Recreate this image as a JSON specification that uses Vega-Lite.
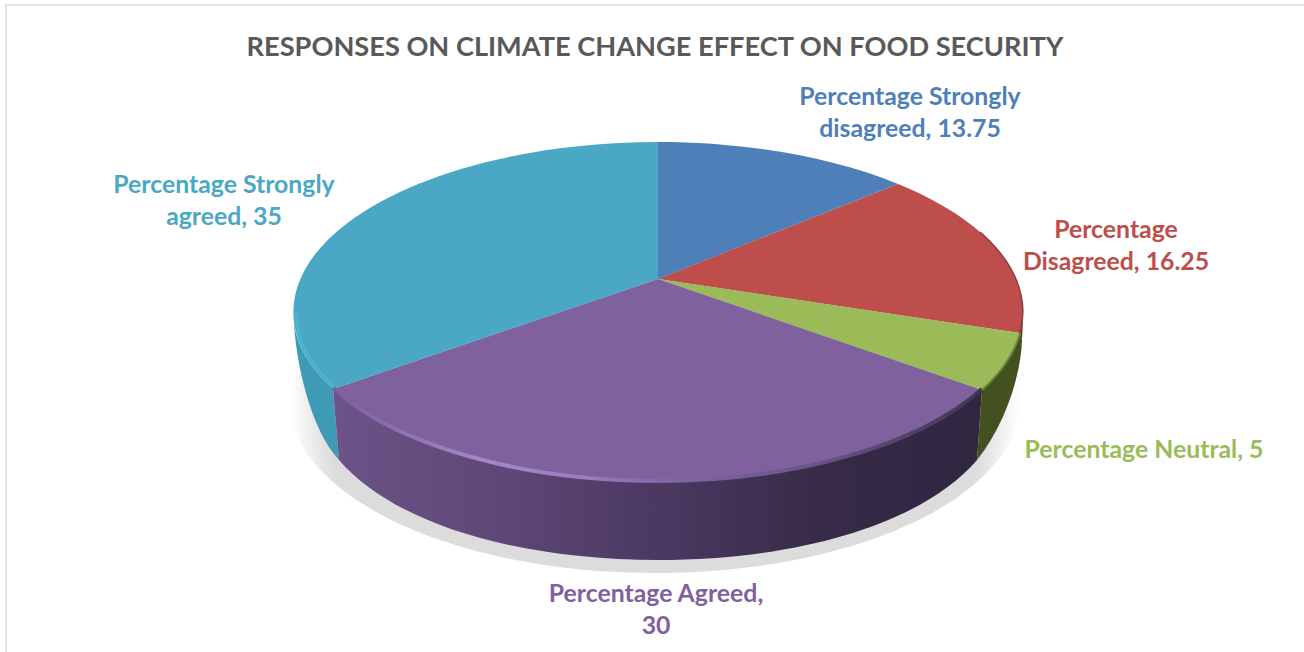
{
  "$schema": "https://vega.github.io/schema/vega-lite/v6.json",
  "autosize": "none",
  "width": 1308,
  "height": 670,
  "padding": {"left": 6, "top": 5, "right": -10, "bottom": -23},
  "background": "white",
  "config": {"view": {"stroke": "#dcdcdc", "strokeWidth": 1.6}},
  "title": {
    "text": "RESPONSES ON CLIMATE CHANGE EFFECT ON FOOD SECURITY",
    "font": "Lato", "fontSize": 27.2, "fontWeight": "bold", "color": "#595959",
    "anchor": "middle", "frame": "group", "baseline": "alphabetic", "offset": -78, "dx": -5
  },
  "data": {
    "values": [
      {"response": "Percentage Strongly disagreed", "value": 13.75, "label": "Percentage Strongly\ndisagreed, 13.75"},
      {"response": "Percentage Disagreed", "value": 16.25, "label": "Percentage\nDisagreed, 16.25"},
      {"response": "Percentage Neutral", "value": 5, "label": "Percentage Neutral, 5"},
      {"response": "Percentage Agreed", "value": 30, "label": "Percentage Agreed,\n30"},
      {"response": "Percentage Strongly agreed", "value": 35, "label": "Percentage Strongly\nagreed, 35"}
    ]
  },
  "layer": [
    {
      "description": "soft ground shadow under the disc",
      "data": {"values": [{"part": "shadow"}]},
      "mark": {
        "type": "point", "filled": true, "opacity": 1, "size": 4,
        "shape": "M-370,61 A365,172 0 1 1 360,61 A365,172 0 1 1 -370,61 Z",
        "fill": {
          "gradient": "radial", "x1": 0.5, "y1": 0.5, "r1": 0, "x2": 0.5, "y2": 0.5, "r2": 0.5,
          "stops": [
            {"offset": 0, "color": "#dcdcdc"},
            {"offset": 0.9, "color": "#dcdcdc"},
            {"offset": 0.95, "color": "#eeeeee"},
            {"offset": 1, "color": "#ffffff"}
          ]
        }
      }
    },
    {
      "description": "side wall: strongly agreed",
      "transform": [{"filter": "datum.response === 'Percentage Strongly agreed'"}],
      "mark": {
        "type": "point", "filled": true, "opacity": 1, "size": 4,
        "shape": "M-367,-28 A365,170 0 0 0 -327,49 L-321,120 C-348,90 -364,30 -367,-28 Z",
        "fill": "#3f9ab6"
      }
    },
    {
      "description": "side wall: agreed, darkening to the right",
      "transform": [{"filter": "datum.response === 'Percentage Agreed'"}],
      "mark": {
        "type": "point", "filled": true, "opacity": 1, "size": 4,
        "shape": "M-327,49 A365,170 0 0 0 322,50 L317,120 C261,185 136,220 -2,220 C-140,220 -265,185 -321,120 Z",
        "fill": {
          "gradient": "linear", "x1": 0, "y1": 0, "x2": 1, "y2": 0,
          "stops": [
            {"offset": 0, "color": "#6c5388"},
            {"offset": 0.25, "color": "#5f4877"},
            {"offset": 0.5, "color": "#4b3962"},
            {"offset": 0.75, "color": "#372b47"},
            {"offset": 1, "color": "#302640"}
          ]
        }
      }
    },
    {
      "description": "side wall: neutral",
      "transform": [{"filter": "datum.response === 'Percentage Neutral'"}],
      "mark": {
        "type": "point", "filled": true, "opacity": 1, "size": 4,
        "shape": "M322,50 A365,170 0 0 0 360,-7 L362,0 C361,35 345,85 317,120 Z",
        "fill": "#435020"
      }
    },
    {
      "description": "side wall: disagreed, only a sliver shows",
      "transform": [{"filter": "datum.response === 'Percentage Disagreed'"}],
      "mark": {
        "type": "point", "filled": true, "opacity": 1, "size": 4,
        "shape": "M360,-7 A365,170 0 0 0 363,-28 L363,-20 L362,0 Z",
        "fill": "#6b2f2d"
      }
    },
    {
      "description": "top face of the pie, one slice per response",
      "mark": {"type": "point", "filled": true, "opacity": 1, "size": 4},
      "encoding": {
        "shape": {
          "field": "response", "type": "nominal", "legend": null,
          "scale": {
            "domain": [
              "Percentage Strongly disagreed", "Percentage Disagreed", "Percentage Neutral",
              "Percentage Agreed", "Percentage Strongly agreed"
            ],
            "range": [
              "M-2,-61 L-2,-198 A365,170 0 0 1 238,-156 Z",
              "M-2,-61 L238,-156 A365,170 0 0 1 360,-7 Z",
              "M-2,-61 L360,-7 A365,170 0 0 1 322,50 Z",
              "M-2,-61 L322,50 A365,170 0 0 1 -327,49 Z",
              "M-2,-61 L-327,49 A365,170 0 0 1 -2,-198 Z"
            ]
          }
        },
        "color": {
          "field": "response", "type": "nominal", "legend": null,
          "scale": {
            "domain": [
              "Percentage Strongly disagreed", "Percentage Disagreed", "Percentage Neutral",
              "Percentage Agreed", "Percentage Strongly agreed"
            ],
            "range": ["#4e7fb9", "#bd4e4b", "#9bbb59", "#7f619e", "#4aa8c4"]
          }
        }
      }
    },
    {
      "description": "bevel on the strongly agreed rim",
      "transform": [{"filter": "datum.response === 'Percentage Strongly agreed'"}],
      "mark": {
        "type": "point", "filled": false, "opacity": 1, "size": 4, "strokeWidth": 3, "fill": null,
        "shape": "M-364,-28 A362,167 0 0 0 -326,46.5",
        "stroke": "#46b6d6"
      }
    },
    {
      "description": "bevel highlight on the left of the agreed rim",
      "transform": [{"filter": "datum.response === 'Percentage Agreed'"}],
      "mark": {
        "type": "point", "filled": false, "opacity": 1, "size": 4, "strokeWidth": 4, "fill": null,
        "shape": "M-327,48 A365,170 0 0 0 -2,141",
        "stroke": {
          "gradient": "linear", "x1": 0, "y1": 0, "x2": 1, "y2": 0,
          "stops": [
            {"offset": 0, "color": "#7a5f9a"},
            {"offset": 0.45, "color": "#a488ca"},
            {"offset": 0.8, "color": "#9a7dc0"},
            {"offset": 1, "color": "#8468a6"}
          ]
        }
      }
    },
    {
      "description": "bevel shade on the right of the agreed rim",
      "transform": [{"filter": "datum.response === 'Percentage Agreed'"}],
      "mark": {
        "type": "point", "filled": false, "opacity": 1, "size": 4, "strokeWidth": 4, "fill": null,
        "shape": "M-2,141 A365,170 0 0 0 322,49",
        "stroke": {
          "gradient": "linear", "x1": 0, "y1": 0, "x2": 1, "y2": 0,
          "stops": [
            {"offset": 0, "color": "#8468a6"},
            {"offset": 0.5, "color": "#6a5288"},
            {"offset": 1, "color": "#42344f"}
          ]
        }
      }
    },
    {
      "description": "dark edge along the disagreed rim",
      "transform": [{"filter": "datum.response === 'Percentage Disagreed'"}],
      "mark": {
        "type": "point", "filled": false, "opacity": 1, "size": 4, "strokeWidth": 1.5, "fill": null,
        "shape": "M320,-108 A365,170 0 0 1 360,-7",
        "stroke": "#8a3d3a"
      }
    },
    {
      "description": "dark edge along the neutral rim",
      "transform": [{"filter": "datum.response === 'Percentage Neutral'"}],
      "mark": {
        "type": "point", "filled": false, "opacity": 1, "size": 4, "strokeWidth": 2, "fill": null,
        "shape": "M360,-7 A365,170 0 0 1 322,50",
        "stroke": "#6d8539"
      }
    },
    {
      "description": "data labels, placed per slice through piecewise position scales",
      "mark": {
        "type": "text", "font": "Lato", "fontSize": 24.8, "fontWeight": "bold",
        "align": "center", "baseline": "alphabetic", "lineBreak": "\n", "lineHeight": 32
      },
      "encoding": {
        "text": {"field": "label", "type": "nominal"},
        "x": {
          "field": "value", "type": "quantitative", "axis": null,
          "scale": {"domain": [5, 13.75, 16.25, 30, 35], "range": [1138, 904, 1110, 650, 218]}
        },
        "y": {
          "field": "value", "type": "quantitative", "axis": null,
          "scale": {"domain": [5, 13.75, 16.25, 30, 35], "range": [453, 100, 233, 597, 188]}
        },
        "color": {
          "field": "response", "type": "nominal", "legend": null,
          "scale": {
            "domain": [
              "Percentage Strongly disagreed", "Percentage Disagreed", "Percentage Neutral",
              "Percentage Agreed", "Percentage Strongly agreed"
            ],
            "range": ["#4f81bd", "#c0504d", "#9bbb59", "#8064a2", "#4bacc6"]
          }
        }
      }
    }
  ],
  "resolve": {"scale": {"x": "independent", "y": "independent", "color": "shared", "shape": "independent"}}
}
